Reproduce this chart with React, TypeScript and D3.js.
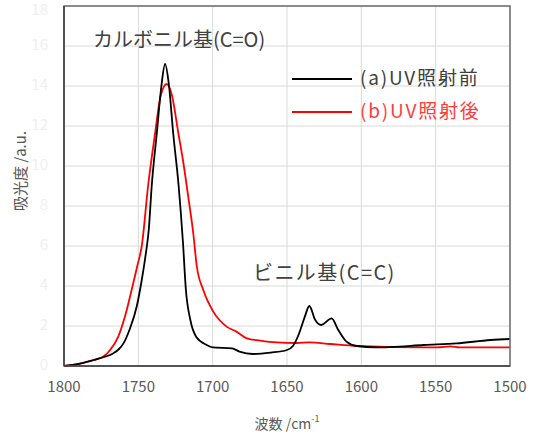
import React from 'react';
import * as d3 from 'd3';

// wavenumber (cm-1) and absorbance values
const beforeWn = [1800, 1790, 1780, 1773, 1767, 1763, 1760, 1756, 1751, 1747.7, 1745, 1743, 1741, 1737.5, 1734.5, 1732, 1729.5, 1726.5, 1723, 1720, 1718, 1715, 1711, 1704, 1700, 1687, 1682, 1673, 1661, 1650, 1646, 1642, 1638, 1635, 1631, 1627, 1620, 1615.5, 1610, 1603, 1590, 1580, 1558, 1536, 1513, 1500];
const beforeAbs = [0, 0.11, 0.3, 0.45, 0.63, 0.85, 1.13, 1.8, 3.0, 4.3, 5.6, 6.8, 9.0, 11.7, 14.0, 15.1, 14.1, 11.6, 9.1, 6.2, 3.8, 2.3, 1.45, 1.05, 0.93, 0.88, 0.72, 0.6, 0.67, 0.8, 1.0, 1.6, 2.47, 3.0, 2.3, 2.05, 2.38, 1.8, 1.22, 1.0, 0.93, 0.95, 1.05, 1.13, 1.3, 1.35];

const afterWn = [1800, 1790, 1780, 1773, 1769, 1763.5, 1759, 1754.5, 1750.7, 1747.7, 1743.3, 1738.8, 1735, 1731, 1727.6, 1723, 1720, 1716.5, 1713, 1710.7, 1706.3, 1699.6, 1690.6, 1684, 1677, 1668, 1657, 1643.5, 1635, 1621, 1603, 1583, 1549, 1540, 1534, 1500];
const afterAbs = [0, 0.11, 0.3, 0.5, 0.8, 1.47, 2.47, 3.8, 5.0, 6.0, 9.1, 11.6, 13.5, 14.1, 13.6, 11.6, 10.3, 8.5, 6.6, 5.0, 3.8, 2.72, 1.97, 1.72, 1.38, 1.27, 1.18, 1.15, 1.18, 1.1, 1.0, 0.95, 0.93, 0.98, 0.93, 0.93];

const xTicks = [1800, 1750, 1700, 1650, 1600, 1550, 1500];
const yTicks = [0, 2, 4, 6, 8, 10, 12, 14, 16, 18];

const seriesNames = ['(a)UV照射前', '(b)UV照射後'];
const seriesColors = ['#000000', '#ff0000'];
const seriesTextColors = ['#404040', '#ff3b3b'];

const W = 534;
const H = 434;
const margin = { top: 6, right: 24, bottom: 68, left: 64 };
const font = '"Noto Sans CJK JP", "Noto Sans", sans-serif';

export default function App() {
  const x = d3.scaleLinear().domain([1800, 1500]).range([margin.left, W - margin.right]);
  const y = d3.scaleLinear().domain([0, 18]).range([H - margin.bottom, margin.top]);

  const line = d3.line<[number, number]>()
    .x(d => x(d[0]))
    .y(d => y(d[1]))
    .curve(d3.curveMonotoneX);

  const series = [
    d3.zip(beforeWn, beforeAbs) as [number, number][],
    d3.zip(afterWn, afterAbs) as [number, number][],
  ];

  const x0 = margin.left, x1 = W - margin.right;
  const y0 = H - margin.bottom, y1 = margin.top;

  return (
    <svg width={W} height={H} style={{ position: 'absolute', left: 0, top: 0 }} fontFamily={font}>
      {/* grid */}
      {yTicks.map(t => (
        <line key={'gy' + t} x1={x0} x2={x1} y1={y(t)} y2={y(t)} stroke="#d9d9d9" strokeWidth={1} />
      ))}
      {xTicks.map(t => (
        <line key={'gx' + t} x1={x(t)} x2={x(t)} y1={y0} y2={y1} stroke="#d9d9d9" strokeWidth={1} />
      ))}

      {/* spectra: after (red) below before (black) */}
      <path d={line(series[1]) || ''} fill="none" stroke={seriesColors[1]} strokeWidth={1.8} />
      <path d={line(series[0]) || ''} fill="none" stroke={seriesColors[0]} strokeWidth={1.8} />

      {/* frame */}
      <rect x={x0} y={y1} width={x1 - x0} height={y0 - y1} fill="none" stroke="#6b6b6b" strokeWidth={1.5} />
      <line x1={x0} x2={x1} y1={y0} y2={y0} stroke="#404040" strokeWidth={1.5} />
      <line x1={x0} x2={x0} y1={y0} y2={y1} stroke="#404040" strokeWidth={1.5} />

      {/* x tick labels */}
      {xTicks.map(t => (
        <text key={'tx' + t} x={x(t)} y={y0 + 22} textAnchor="middle" dominantBaseline="middle" fontSize={15} fill="#595959">{t}</text>
      ))}
      {/* y tick labels (very faint in the original) */}
      {yTicks.map(t => (
        <text key={'ty' + t} x={x0 - 16} y={Math.max(y(t), 11)} textAnchor="end" dominantBaseline="middle" fontSize={15} fill="#efefef">{t}</text>
      ))}

      {/* axis titles */}
      <text x={(x0 + x1) / 2} y={425} textAnchor="middle" dominantBaseline="middle" fontSize={14} fill="#595959">
        波数 /cm<tspan dy={-5} fontSize={9}>-1</tspan>
      </text>
      <text transform={`translate(22,${171}) rotate(-90)`} textAnchor="middle" dominantBaseline="middle" fontSize={15} fill="#595959">吸光度 /a.u.</text>

      {/* annotations */}
      <text x={93} y={42} dominantBaseline="middle" fontSize={20} fill="#404040">カルボニル基(C=O)</text>
      <text x={253} y={275} dominantBaseline="middle" fontSize={20} letterSpacing={1.4} fill="#404040">ビニル基(C=C)</text>

      {/* legend */}
      {seriesNames.map((name, i) => (
        <g key={name} transform={`translate(292,${79 + i * 33})`}>
          <line x1={0} x2={60} y1={0} y2={0} stroke={seriesColors[i]} strokeWidth={2.2} />
          <text x={68} y={1} dominantBaseline="middle" fontSize={19} letterSpacing={1.8} fill={seriesTextColors[i]}>{name}</text>
        </g>
      ))}
    </svg>
  );
}
